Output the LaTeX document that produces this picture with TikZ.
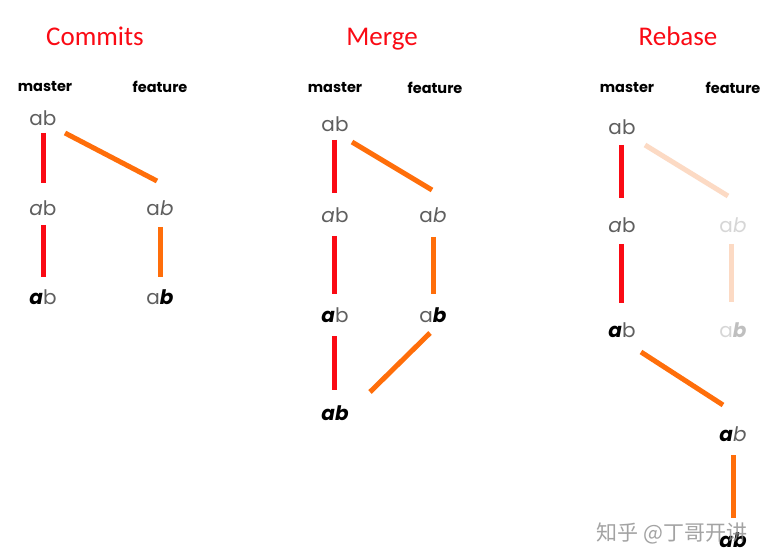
\documentclass[tikz,border=0pt]{standalone}
\usepackage{fontspec}
\setmainfont{Poppins}
\newfontfamily\titlefont{Carlito}
\newfontfamily\cjk{Noto Sans CJK SC}
\usetikzlibrary{calc}
\definecolor{gitred}{RGB}{250,10,20}
\definecolor{gitorange}{RGB}{255,110,10}
\definecolor{gitfade}{RGB}{252,218,196}
\definecolor{abgray}{RGB}{95,95,95}
\newcommand{\gn}[1]{{\color{abgray}#1}}
\newcommand{\gi}[1]{{\color{abgray}\itshape #1}}
\newcommand{\bk}[1]{{\color{black}\bfseries\itshape #1}}
\begin{document}
\begin{tikzpicture}[x=1pt,y=-1pt,
  title/.style={text=gitred,anchor=base,font=\titlefont\fontsize{27}{30}\selectfont},
  branch/.style={font=\bfseries\fontsize{14.5}{16}\selectfont},
  commit/.style={font=\fontsize{20}{22}\selectfont,inner sep=0pt},
  faded/.style={commit,text opacity=0.25},
  redline/.style={draw=gitred,line width=5pt},
  orline/.style={draw=gitorange,line width=5pt},
  fadeline/.style={draw=gitfade,line width=5pt}]
\useasboundingbox (0,0) rectangle (765,553);
\fill[white] (0,0) rectangle (765,553);
% ---------------- Commits
\node[title] (t1) at (95,46) {Commits};
\node[branch] (cm) at (45,87) {master};
\node[branch] (cf) at (160,87) {feature};
\node[commit] (c1) at (43,118) {\gn{a}\gn{b}};
\node[commit] (c2) at (43,208) {\gi{a}\gn{b}};
\node[commit] (c3) at (43,297) {\bk{a}\gn{b}};
\node[commit] (d2) at (160,208) {\gn{a}\gi{b}};
\node[commit] (d3) at (160,297) {\gn{a}\bk{b}};
\draw[redline] ($(c1)+(0,15)$) -- ($(c2)+(0,-25)$);
\draw[redline] ($(c2)+(0,17)$) -- ($(c3)+(0,-20)$);
\draw[orline] ($(c1)+(22,15)$) -- ($(d2)+(-3,-27)$);
\draw[orline] ($(d2)+(0,19)$) -- ($(d3)+(0,-20)$);
% ---------------- Merge
\node[title] (t2) at (382,46) {Merge};
\node[branch] (mm) at (335,88) {master};
\node[branch] (mf) at (435,88) {feature};
\node[commit] (m1) at (335,124) {\gn{a}\gn{b}};
\node[commit] (m2) at (335,215) {\gi{a}\gn{b}};
\node[commit] (m3) at (335,315) {\bk{a}\gn{b}};
\node[commit] (m4) at (335,413) {\bk{a}\bk{b}};
\node[commit] (n2) at (433,215) {\gn{a}\gi{b}};
\node[commit] (n3) at (433,315) {\gn{a}\bk{b}};
\draw[redline] ($(m1)+(-1,16)$) -- ($(m2)+(-1,-22)$);
\draw[redline] ($(m2)+(-1,21)$) -- ($(m3)+(-1,-21)$);
\draw[redline] ($(m3)+(-1,21)$) -- ($(m4)+(-1,-23)$);
\draw[orline] ($(m1)+(17,18)$) -- ($(n2)+(-1,-25)$);
\draw[orline] ($(n2)+(0,22)$) -- ($(n3)+(0,-21)$);
\draw[orline] ($(n3)+(-3,18)$) -- ($(m4)+(35,-21)$);
% ---------------- Rebase
\node[title] (t3) at (678,46) {Rebase};
\node[branch] (rm) at (627,88) {master};
\node[branch] (rf) at (733,88) {feature};
\node[commit] (r1) at (622,127) {\gn{a}\gn{b}};
\node[commit] (r2) at (622,225) {\gi{a}\gn{b}};
\node[commit] (r3) at (622,330) {\bk{a}\gn{b}};
\node[faded] (s2) at (733,225) {\gn{a}\gi{b}};
\node[faded] (s3) at (733,330) {\gn{a}\bk{b}};
\node[commit] (s4) at (733,434) {\bk{a}\gi{b}};
\node[commit] (s5) at (733,540) {\bk{a}\bk{b}};
\draw[redline] ($(r1)+(-1,18)$) -- ($(r2)+(-1,-27)$);
\draw[redline] ($(r2)+(-1,19)$) -- ($(r3)+(-1,-27)$);
\draw[fadeline] ($(r1)+(23,18)$) -- ($(s2)+(-5,-29)$);
\draw[fadeline] ($(s2)+(-2,19)$) -- ($(s3)+(-2,-28)$);
\draw[orline] ($(r3)+(19,22)$) -- ($(s4)+(-10,-29)$);
\draw[orline] ($(s4)+(0,21)$) -- ($(s5)+(0,-22)$);
% watermark
\node[text=black!45,text opacity=0.8,font=\cjk\fontsize{21}{24}\selectfont] (wm) at (672,533) {知乎 @丁哥开讲};
\end{tikzpicture}
\end{document}
